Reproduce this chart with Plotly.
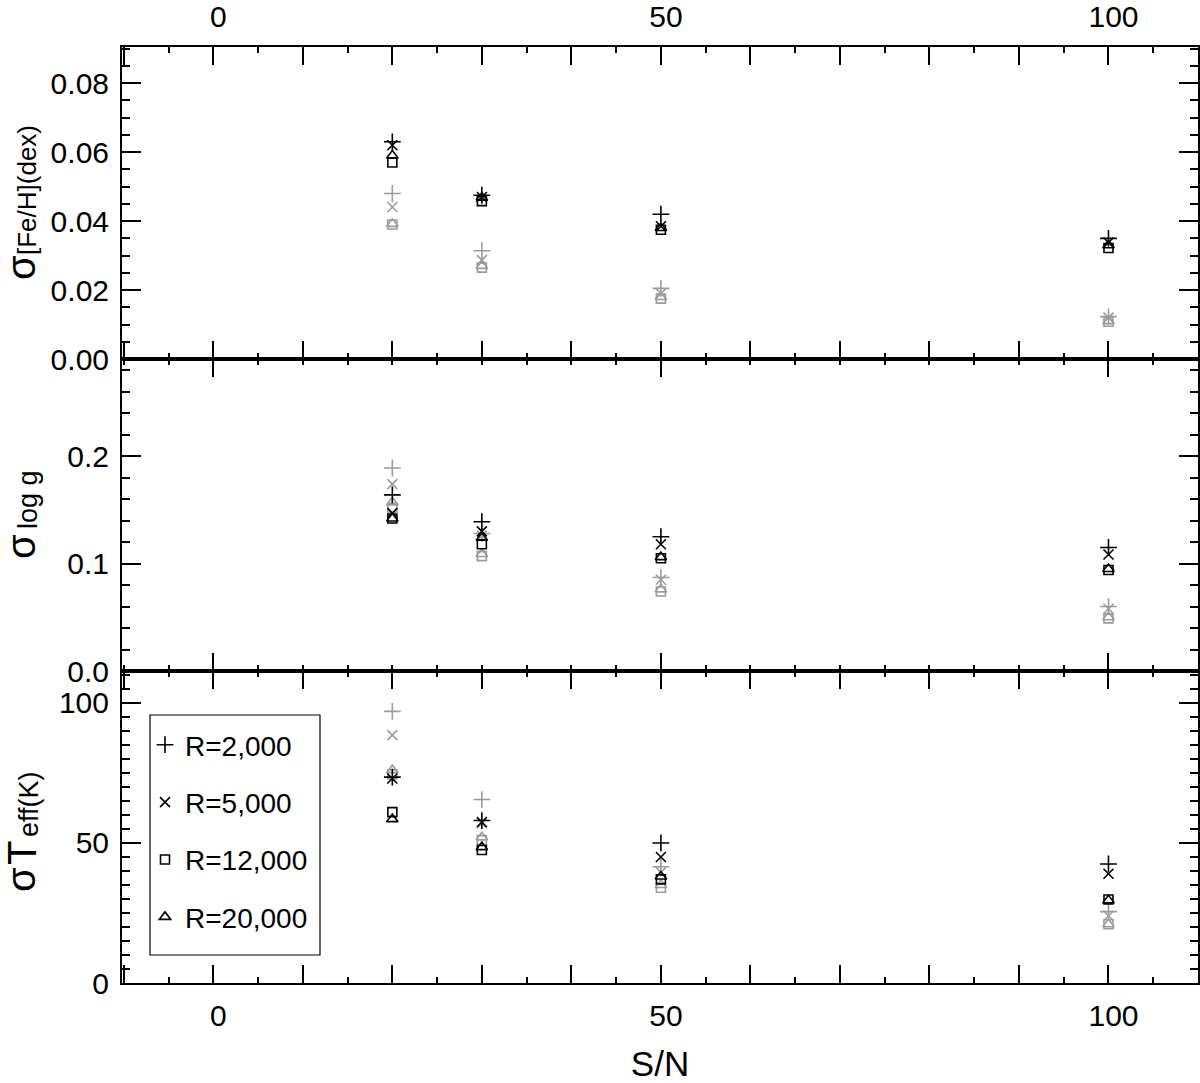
import plotly.graph_objects as go
from plotly.subplots import make_subplots

sn = [20, 30, 50, 100]
res_labels = ["R=2,000", "R=5,000", "R=12,000", "R=20,000"]
symbols = ["cross-thin-open", "x-thin-open", "square-open", "triangle-up-open"]
sizes = [12, 10, 9, 10]

# sigma [Fe/H] (dex): one list per resolution (R=2000, 5000, 12000, 20000)
feh_black = [[0.063, 0.0475, 0.042, 0.035],
             [0.062, 0.047, 0.0385, 0.0338],
             [0.057, 0.0458, 0.0375, 0.0322],
             [0.059, 0.0468, 0.038, 0.033]]
feh_gray = [[0.048, 0.0314, 0.0205, 0.0123],
            [0.0441, 0.0287, 0.019, 0.012],
            [0.039, 0.0265, 0.0175, 0.0108],
            [0.0392, 0.027, 0.018, 0.011]]

# sigma log g
logg_black = [[0.164, 0.139, 0.125, 0.115],
              [0.147, 0.130, 0.118, 0.1085],
              [0.142, 0.118, 0.105, 0.094],
              [0.142, 0.124, 0.106, 0.095]]
logg_gray = [[0.189, 0.128, 0.087, 0.060],
             [0.174, 0.126, 0.085, 0.058],
             [0.152, 0.107, 0.074, 0.049],
             [0.157, 0.109, 0.076, 0.050]]

# sigma Teff (K)
teff_black = [[73.5, 58, 50, 42.5],
              [73, 57.5, 45, 39],
              [61, 47.5, 37, 29.8],
              [58.5, 48.5, 38, 29.5]]
teff_gray = [[97, 65.5, 41.5, 25.5],
             [88.5, 57, 39.5, 24],
             [74.5, 51, 34, 21],
             [76, 52, 35, 21]]

BLACK = "#000000"
GRAY = "#9c9c9c"
FONT = "Liberation Sans, Arial, sans-serif"
TICKSIZE = 30

fig = make_subplots(rows=3, cols=1, vertical_spacing=0)

panels = [(feh_gray, feh_black), (logg_gray, logg_black), (teff_gray, teff_black)]
for row, (gray, black) in enumerate(panels, start=1):
    for color, data in ((GRAY, gray), (BLACK, black)):
        for i in range(4):
            show = (row == 3 and color == BLACK)
            fig.add_trace(go.Scatter(
                x=sn, y=data[i], mode="markers", name=res_labels[i],
                legendgroup=res_labels[i], showlegend=show,
                marker=dict(symbol=symbols[i], size=sizes[i], color=color,
                            line=dict(color=color, width=1.6))),
                row=row, col=1)

axis_common = dict(showline=True, linecolor="black", linewidth=2, mirror="ticks",
                   ticks="inside", tickcolor="black", tickwidth=2, showgrid=False,
                   zeroline=False, automargin=False,
                   tickfont=dict(family=FONT, size=TICKSIZE, color="black"))

xt = list(range(-10, 111, 10))
xtt = [str(v) if v in (0, 50, 100) else "" for v in xt]
xminor = dict(tickmode="linear", tick0=0, dtick=5, ticklen=6, ticks="inside",
              tickcolor="black", tickwidth=2)
for r in (1, 2, 3):
    fig.update_xaxes(axis_common, range=[-10.2, 110], tickmode="array", tickvals=xt,
                     ticktext=xtt, ticklen=18, minor=xminor, ticklabelshift=5,
                     row=r, col=1)
fig.update_xaxes(side="top", showticklabels=True, ticklabelstandoff=6, row=1, col=1)
fig.update_xaxes(showticklabels=False, row=2, col=1)
fig.update_xaxes(showticklabels=True, ticklabelstandoff=5,
                 title=dict(text="S/N", font=dict(family=FONT, size=35, color="black"),
                            standoff=37), row=3, col=1)

def yminor(d):
    return dict(tickmode="linear", tick0=0, dtick=d, ticklen=8, ticks="inside",
                tickcolor="black", tickwidth=2)

fig.update_yaxes(axis_common, range=[0, 0.0905], tickmode="array",
                 tickvals=[0, 0.02, 0.04, 0.06, 0.08],
                 ticktext=["0.00", "0.02", "0.04", "0.06", "0.08"], ticklen=19,
                 minor=yminor(0.005), ticklabelstandoff=5, row=1, col=1)
fig.update_yaxes(axis_common, range=[0, 0.2905], tickmode="array",
                 tickvals=[0, 0.1, 0.2], ticktext=["0.0", "0.1", "0.2"], ticklen=19,
                 minor=yminor(0.02), ticklabelstandoff=5, row=2, col=1)
fig.update_yaxes(axis_common, range=[0, 111.4], tickmode="array",
                 tickvals=[0, 50, 100], ticktext=["0", "50", "100"], ticklen=19,
                 minor=yminor(5), ticklabelstandoff=5, row=3, col=1)

L, R, T, B = 122, 1198, 47, 983
def px(x):
    return (x - L) / (R - L)
def py(y):
    return (B - y) / (B - T)

def ann(text, x, y, size):
    fig.add_annotation(text=text, x=px(x), y=py(y), xref="paper", yref="paper",
                       xanchor="center", yanchor="middle", textangle=-90,
                       showarrow=False, font=dict(family=FONT, size=size, color="black"))

ann("σ", 21, 268, 40)
ann("[Fe/H](dex)", 27, 190, 26)
ann("σ", 21, 547, 40)
ann("log g", 28, 500, 27)
ann("σ", 21, 880, 40)
ann("T", 22, 853, 40)
ann("eff(K)", 29, 804, 27)

# legend frame
fig.add_shape(type="rect", xref="paper", yref="paper",
              x0=px(150), x1=px(320), y0=py(955), y1=py(715),
              line=dict(color="black", width=1.2), fillcolor="rgba(0,0,0,0)")

fig.update_layout(
    width=1200, height=1083,
    margin=dict(l=L, r=1200 - R, t=T, b=1083 - B, autoexpand=False),
    paper_bgcolor="white", plot_bgcolor="white",
    font=dict(family=FONT, color="black"),
    legend=dict(x=px(145), y=py(720), xanchor="left", yanchor="top",
                borderwidth=0, bgcolor="rgba(0,0,0,0)",
                font=dict(family=FONT, size=28, color="black"),
                traceorder="grouped", tracegroupgap=18),
)

fig.write_html("out.html", config={"displayModeBar": False},
               post_script=("document.body.style.margin='0';"
                            "document.body.style.padding='0';"
                            "document.body.style.overflow='hidden';"
                            "document.documentElement.style.overflow='hidden';"))
